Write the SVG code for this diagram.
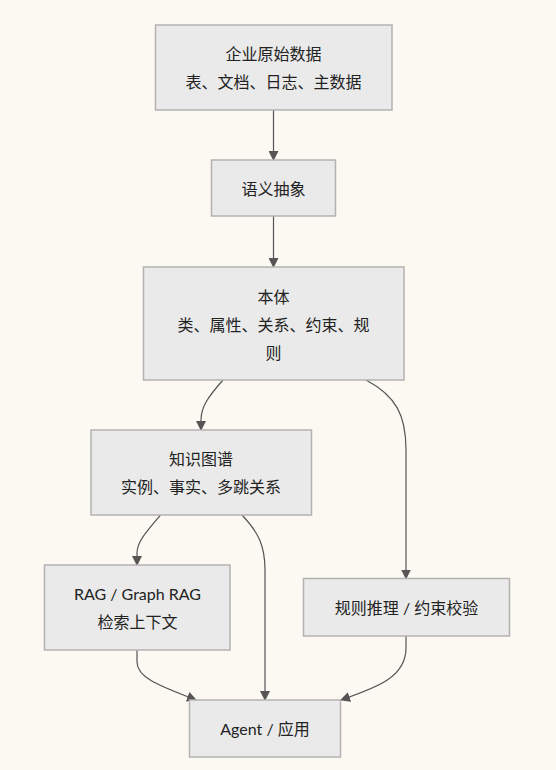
<svg xmlns="http://www.w3.org/2000/svg" width="556" height="770" viewBox="0 0 556 770">
<style>
.bg{fill:#fcf8f2}
.node rect{fill:#eaeaea;stroke:#b2b2b2;stroke-width:1.5}
.node text{font-family:Lato,"Noto Sans CJK SC",sans-serif;font-size:16px;fill:#222;text-anchor:middle;dominant-baseline:central}
.edges path{fill:none;stroke:#555;stroke-width:1.2}
</style>
<defs>
<marker id="arr" viewBox="0 0 10 10" refX="9" refY="5" markerWidth="10" markerHeight="10" markerUnits="userSpaceOnUse" orient="auto">
<path d="M0,0 L10,5 L0,10 z" fill="#555"/>
</marker>
</defs>
<rect class="bg" width="556" height="770"/>
<g class="edges">
<path d="M273.5,110 L273.5,160" marker-end="url(#arr)"/>
<path d="M273.5,216 L273.5,267" marker-end="url(#arr)"/>
<path d="M223,380 C208,397 201,407 201,420 L201,430" marker-end="url(#arr)"/>
<path d="M366,380 C396,396 406,415 406,450 L406,578.5" marker-end="url(#arr)"/>
<path d="M160.5,515 C146,532 137,542 137,553 L137,565" marker-end="url(#arr)"/>
<path d="M242,515 C258,532 265,545 265,570 L265,700" marker-end="url(#arr)"/>
<path d="M137,650 L137,662 C137,678 160,686 196,700" marker-end="url(#arr)"/>
<path d="M406,636 L406,648 C406,678 375,688 341,700" marker-end="url(#arr)"/>
</g>
<g id="n1" class="node"><rect x="155.5" y="25" width="236.5" height="85"/><text x="273.5" y="53">企业原始数据</text><text x="273.5" y="81">表、文档、日志、主数据</text></g>
<g id="n2" class="node"><rect x="211.5" y="160" width="124" height="56"/><text x="273.5" y="188">语义抽象</text></g>
<g id="n3" class="node"><rect x="143.5" y="267" width="260.5" height="113"/><text x="273.5" y="296">本体</text><text x="273.5" y="324">类、属性、关系、约束、规</text><text x="273.5" y="352">则</text></g>
<g id="n4" class="node"><rect x="91" y="430" width="220.5" height="85"/><text x="201" y="458">知识图谱</text><text x="201" y="486">实例、事实、多跳关系</text></g>
<g id="n5" class="node"><rect x="44.5" y="565" width="185.5" height="85"/><text x="137.5" y="593">RAG / Graph RAG</text><text x="137.5" y="621">检索上下文</text></g>
<g id="n6" class="node"><rect x="303.5" y="578.5" width="206" height="57.5"/><text x="406.5" y="607">规则推理 / 约束校验</text></g>
<g id="n7" class="node"><rect x="189.5" y="700" width="151" height="57"/><text x="265" y="728">Agent / 应用</text></g>
</svg>
